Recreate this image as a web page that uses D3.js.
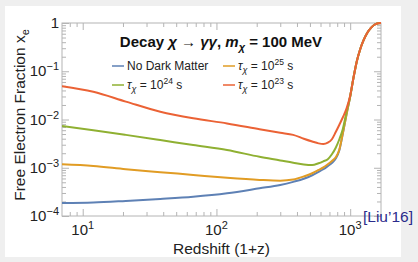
<!DOCTYPE html>
<html>
<head>
<meta charset="utf-8">
<script src="https://cdn.jsdelivr.net/npm/d3@7"></script>
<style>
  body { margin: 0; background: #efefef; }
  text { font-family: "Liberation Sans", Arial, sans-serif; }
</style>
</head>
<body>
<div id="chart"></div>
<script>
// redshift grid (1+z) and free electron fraction per model
var redshift = [7, 12, 21, 38, 67, 120, 210, 300, 375, 450, 520, 580, 630, 680, 730, 780, 830, 880, 940, 1000, 1060, 1120, 1190, 1260, 1340, 1430, 1530, 1620, 1700];
var xeNoDM  = [1.85e-4, 1.9e-4, 2.05e-4, 2.25e-4, 2.5e-4, 2.95e-4, 3.75e-4, 4.4e-4, 5.1e-4, 5.9e-4, 7.0e-4, 8.2e-4, 9.3e-4, 1.08e-3, 1.25e-3, 1.55e-3, 2.3e-3, 5.0e-3, 0.013, 0.03, 0.075, 0.16, 0.29, 0.44, 0.62, 0.79, 0.93, 0.99, 1.0];
var xeTau25 = [1.18e-3, 1.09e-3, 9.3e-4, 8.1e-4, 7.1e-4, 6.2e-4, 5.6e-4, 5.4e-4, 5.7e-4, 6.6e-4, 7.7e-4, 9.0e-4, 1.02e-3, 1.18e-3, 1.38e-3, 1.65e-3, 2.4e-3, 5.1e-3, 0.013, 0.03, 0.075, 0.16, 0.29, 0.44, 0.62, 0.79, 0.93, 0.99, 1.0];
var xeTau24 = [7.3e-3, 6.0e-3, 4.8e-3, 3.75e-3, 2.95e-3, 2.33e-3, 1.69e-3, 1.42e-3, 1.27e-3, 1.17e-3, 1.14e-3, 1.24e-3, 1.36e-3, 1.5e-3, 1.9e-3, 2.6e-3, 3.9e-3, 6.3e-3, 0.0145, 0.03, 0.075, 0.16, 0.29, 0.44, 0.62, 0.79, 0.93, 0.99, 1.0];
var xeTau23 = [0.049, 0.0375, 0.0235, 0.0145, 0.0106, 0.0083, 0.0063, 0.0053, 0.0048, 0.0040, 0.0035, 0.0032, 0.0031, 0.0033, 0.0039, 0.0055, 0.0078, 0.011, 0.017, 0.031, 0.075, 0.16, 0.29, 0.44, 0.62, 0.79, 0.93, 0.99, 1.0];

var seriesNames = ["No Dark Matter", "25", "24", "23"];
var seriesColors = ["#5e81b5", "#e19c24", "#8fb032", "#eb6235"];
var seriesValues = [xeNoDM, xeTau25, xeTau24, xeTau23];

var xMajor = [10, 100, 1000];
var xMinor = [8, 9, 20, 30, 40, 50, 60, 70, 80, 90, 200, 300, 400, 500, 600, 700, 800, 900];
var yMajor = [1e-4, 1e-3, 1e-2, 1e-1, 1];
var yExp = {"0.0001": "\u22124", "0.001": "\u22123", "0.01": "\u22122", "0.1": "\u22121"};
var xExp = {"10": "1", "100": "2", "1000": "3"};

var width = 418, height = 262;
var pLeft = 62, pRight = 381, pTop = 23, pBottom = 216;

var svg = d3.select("#chart").append("svg")
    .attr("width", width)
    .attr("height", height);

svg.append("rect").attr("x", 0).attr("y", 0).attr("width", width).attr("height", height).attr("fill", "#efefef");
svg.append("rect").attr("x", 5).attr("y", 6).attr("width", 396).attr("height", 251).attr("fill", "#fff");

var x = d3.scaleLog().domain([7, 1700]).range([pLeft, pRight]);
var y = d3.scaleLog().domain([1e-4, 1]).range([pBottom, pTop]);

var frameColor = "#b4b4b4";

function styleAxis(g) {
    g.select(".domain").remove();
    g.selectAll(".tick line").attr("stroke", frameColor);
}

// frame ticks, inward, on all four sides
function ticks(axisFn, scale, vals, size, tr) {
    var g = svg.append("g").attr("transform", tr)
        .call(axisFn(scale).tickValues(vals).tickSize(-size).tickFormat(""));
    styleAxis(g);
    return g;
}
ticks(d3.axisBottom, x, xMajor, 7, "translate(0," + pBottom + ")");
ticks(d3.axisBottom, x, xMinor, 4, "translate(0," + pBottom + ")");
ticks(d3.axisTop, x, xMajor, 7, "translate(0," + pTop + ")");
ticks(d3.axisTop, x, xMinor, 4, "translate(0," + pTop + ")");

var yMinor = [];
yMajor.slice(0, 4).forEach(function(d) {
    for (var k = 2; k <= 9; k++) yMinor.push(d * k);
});
ticks(d3.axisLeft, y, yMajor, 7, "translate(" + pLeft + ",0)");
ticks(d3.axisLeft, y, yMinor, 4, "translate(" + pLeft + ",0)");
ticks(d3.axisRight, y, yMajor, 7, "translate(" + pRight + ",0)");
ticks(d3.axisRight, y, yMinor, 4, "translate(" + pRight + ",0)");

svg.append("rect")
    .attr("x", pLeft).attr("y", pTop)
    .attr("width", pRight - pLeft).attr("height", pBottom - pTop)
    .attr("fill", "none").attr("stroke", frameColor).attr("stroke-width", 1);

// tick labels
yMajor.forEach(function(d) {
    var t = svg.append("text")
        .attr("x", pLeft - 3).attr("y", y(d) + 5)
        .attr("text-anchor", "end")
        .attr("font-size", 15).attr("fill", "#222");
    if (d === 1) { t.text("1"); return; }
    t.append("tspan").text("10");
    t.append("tspan").attr("dy", -6).attr("font-size", 11).text(yExp[String(d)]);
});
xMajor.forEach(function(d) {
    var t = svg.append("text")
        .attr("x", x(d)).attr("y", pBottom + 19)
        .attr("text-anchor", "middle")
        .attr("font-size", 15).attr("fill", "#222");
    t.append("tspan").text("10");
    t.append("tspan").attr("dy", -6).attr("font-size", 11).text(xExp[String(d)]);
});

// axis titles
svg.append("text")
    .attr("x", (pLeft + pRight) / 2).attr("y", 254)
    .attr("text-anchor", "middle").attr("font-size", 15.5).attr("fill", "#222")
    .text("Redshift (1+z)");

var yl = svg.append("text")
    .attr("transform", "translate(25,115) rotate(-90)")
    .attr("text-anchor", "middle").attr("font-size", 15.5).attr("fill", "#222");
yl.append("tspan").text("Free Electron Fraction x");
yl.append("tspan").attr("dy", 4).attr("font-size", 11).text("e");

// curves
svg.append("clipPath").attr("id", "clip")
    .append("rect").attr("x", pLeft).attr("y", pTop - 1).attr("width", pRight - pLeft).attr("height", pBottom - pTop + 1);

var line = d3.line()
    .x(function(d) { return x(d[0]); })
    .y(function(d) { return y(d[1]); })
    .curve(d3.curveMonotoneX);

seriesValues.forEach(function(vals, i) {
    svg.append("path")
        .datum(redshift.map(function(z, j) { return [z, vals[j]]; }))
        .attr("clip-path", "url(#clip)")
        .attr("fill", "none")
        .attr("stroke", seriesColors[i])
        .attr("stroke-width", 2)
        .attr("d", line);
});

// title
var title = svg.append("text")
    .attr("x", 221).attr("y", 47)
    .attr("text-anchor", "middle").attr("font-size", 15).attr("font-weight", "bold").attr("fill", "#111");
title.append("tspan").text("Decay ");
title.append("tspan").attr("font-style", "italic").text("\u03c7");
title.append("tspan").text(" \u2192 ");
title.append("tspan").attr("font-style", "italic").text("\u03b3\u03b3");
title.append("tspan").text(", ");
title.append("tspan").attr("font-style", "italic").text("m");
title.append("tspan").attr("font-style", "italic").attr("font-size", 11).attr("dy", 4).text("\u03c7");
title.append("tspan").attr("dy", -4).text(" = 100 MeV");

// legend
var legendPos = [[112, 66], [223, 66], [112, 85], [223, 85]];
seriesValues.forEach(function(v, i) {
    var p = legendPos[i];
    svg.append("line")
        .attr("x1", p[0]).attr("x2", p[0] + 12)
        .attr("y1", p[1]).attr("y2", p[1])
        .attr("stroke", seriesColors[i]).attr("stroke-width", 1.5);
    var t = svg.append("text")
        .attr("x", p[0] + 15).attr("y", p[1] + 4)
        .attr("font-size", 12).attr("fill", "#222");
    if (i === 0) { t.text(seriesNames[0]); return; }
    t.append("tspan").attr("font-style", "italic").text("\u03c4");
    t.append("tspan").attr("font-style", "italic").attr("font-size", 9).attr("dy", 3).text("\u03c7");
    t.append("tspan").attr("dy", -3).text(" = 10");
    t.append("tspan").attr("font-size", 8.5).attr("dy", -5).text(seriesNames[i]);
    t.append("tspan").attr("dy", 5).text(" s");
});

// citation
svg.append("text")
    .attr("x", 363).attr("y", 222)
    .attr("font-family", "Liberation Serif, Times New Roman, serif")
    .attr("font-size", 15.5).attr("fill", "#2b2b8c")
    .text("[Liu\u201916]");
</script>
</body>
</html>
